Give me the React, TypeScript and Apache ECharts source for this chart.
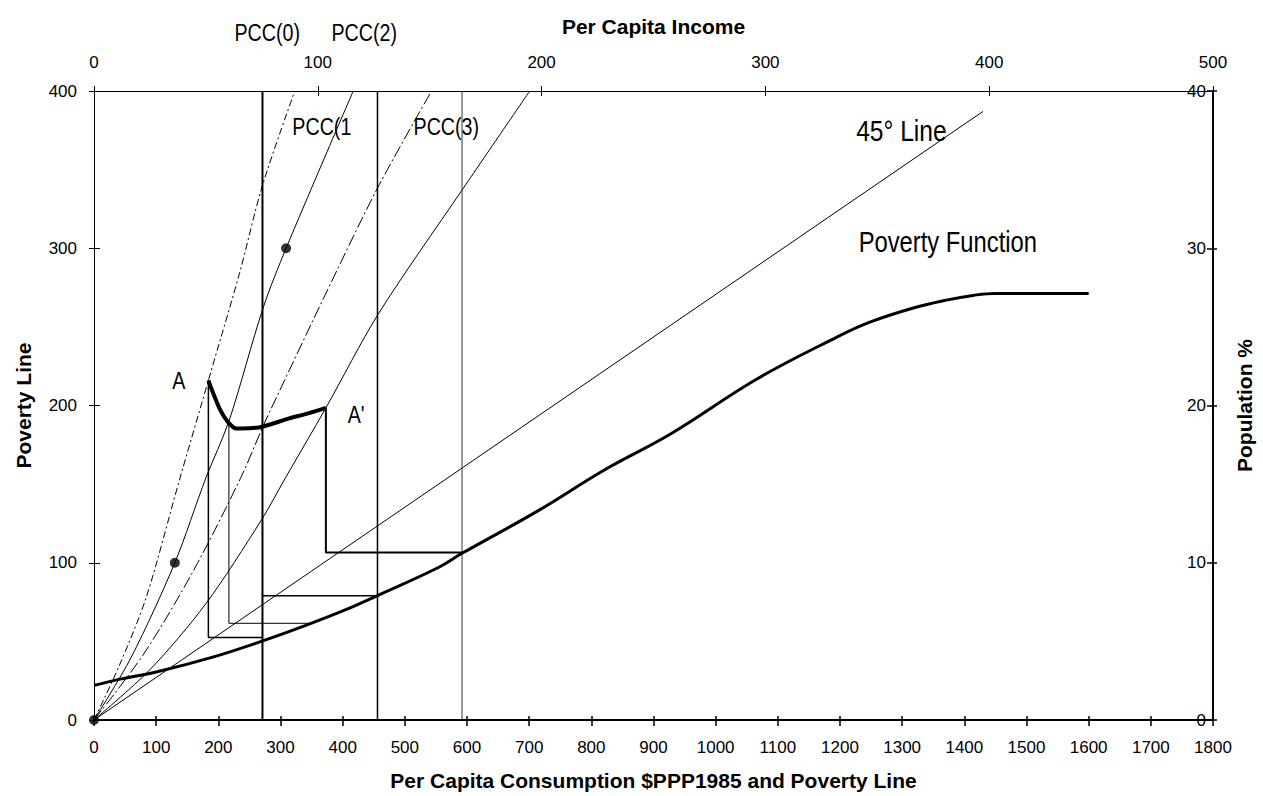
import React, { useEffect, useRef } from "react";
import * as echarts from "echarts";

// ---- data (consumption X, poverty line Y) ----
const povertyFunction = [
  [0, 22], [42, 26], [100, 30.5], [191, 40], [269, 50], [346, 61], [404, 70], [455, 79],
  [554, 97], [592, 106], [714, 133], [821, 159], [928, 182], [1067, 217], [1195, 243.5],
  [1248, 253], [1318, 262], [1371, 267], [1414, 270], [1448, 271.3], [1600, 271.3],
];
const fortyFiveLine = [[0, 0], [1430, 387]];
const pcc0 = [[0, 0], [40, 34], [84, 78], [137, 152], [184, 216], [234, 284], [271, 340], [323, 400]];
const pcc1 = [[0, 0], [60, 40], [130, 100], [180, 154], [217, 190], [272, 262], [309, 300], [417, 400]];
const pcc2 = [[0, 0], [80, 42], [160, 95], [236, 154], [271, 186], [285, 198], [369, 268], [457, 339], [543, 400]];
const pcc3 = [[0, 0], [90, 32], [180, 74], [269, 127], [308, 154], [373, 198.5], [457, 258], [592, 337], [701, 400]];
const curveAA = [
  [184, 216], [189, 210.5], [202, 198], [215, 189.7], [228.5, 185.4], [250, 185.5],
  [271, 186.5], [314, 191.8], [340, 194.5], [367, 197.7], [373, 198.5],
];
const stepA = [[184, 216], [184, 52.5], [271, 52.5]];
const stepB = [[217, 189.5], [217, 61.5], [346, 61.5]];
const stepC = [[271, 79], [455, 79]];
const stepD = [[373, 198.5], [373, 106.5], [592, 106.5]];
const incomeLevels = [271, 456, 592];
const dots = [[0, 0], [130, 100], [309, 300]];

const annotations = [
  { text: "PCC(0)", x: 226, y: 437, size: 24 },
  { text: "PCC(2)", x: 382, y: 437, size: 24 },
  { text: "PCC(1", x: 319, y: 377, size: 24 },
  { text: "PCC(3)", x: 514, y: 377, size: 24 },
  { text: "45° Line", x: 1226, y: 375, size: 30 },
  { text: "Poverty Function", x: 1230, y: 304, size: 29 },
  { text: "A", x: 126, y: 216, size: 24 },
  { text: "A'", x: 408, y: 194, size: 24 },
];

const FONT = "'Liberation Sans', Arial, sans-serif";

export default function App() {
  const ref = useRef<HTMLDivElement>(null);
  useEffect(() => {
    if (!ref.current) return;
    const chart = echarts.init(ref.current, null, { renderer: "svg" });
    const black = "#000";
    const tickLbl = { color: black, fontFamily: FONT, fontSize: 17, formatter: (v: number) => String(v) };
    const nameStyle = { color: black, fontFamily: FONT, fontSize: 21, fontWeight: "bold" as const };
    const lineSeries = (data: number[][], width: number, type: any = "solid", color = black, smooth: any = false, z = 2) => ({
      type: "line",
      data,
      xAxisIndex: 0,
      yAxisIndex: 0,
      showSymbol: false,
      symbol: "none",
      smooth,
      silent: true,
      z,
      lineStyle: { color, width, type },
    });
    const series: any[] = [
      lineSeries(fortyFiveLine, 1),
      lineSeries(pcc0, 1, [7, 3, 2, 3], black, 0.3),
      lineSeries(pcc1, 1, "solid", black, 0.3),
      lineSeries(pcc2, 1, [12, 3, 2, 3], black, 0.3),
      lineSeries(pcc3, 1, "solid", black, 0.3),
      lineSeries([[incomeLevels[0], 0], [incomeLevels[0], 400]], 2),
      lineSeries([[incomeLevels[1], 0], [incomeLevels[1], 400]], 1.5),
      lineSeries([[incomeLevels[2], 0], [incomeLevels[2], 400]], 1, "solid", "#333"),
      lineSeries(stepA, 1.5),
      lineSeries(stepB, 1),
      lineSeries(stepC, 1.5),
      lineSeries(stepD, 2),
      lineSeries(povertyFunction, 3, "solid", black, 0.4, 4),
      lineSeries(curveAA, 4, "solid", black, 0.2, 4),
      {
        type: "scatter",
        data: dots,
        symbol: "circle",
        symbolSize: 10,
        itemStyle: { color: black },
        silent: true,
        z: 5,
      },
    ];
    const noLine = { show: false, onZero: false };
    chart.setOption({
      animation: false,
      backgroundColor: "#fff",
      grid: { left: 94, right: 45, top: 91, bottom: 73 },
      xAxis: [
        {
          type: "value", min: 0, max: 1800, interval: 100, position: "bottom",
          axisLine: { onZero: false, lineStyle: { color: black, width: 2 } },
          axisTick: { length: 6, lineStyle: { color: black, width: 1.5 } },
          axisLabel: { ...tickLbl, margin: 19 },
          splitLine: { show: false },
          name: "Per Capita Consumption $PPP1985 and Poverty Line",
          nameLocation: "middle", nameGap: 50, nameTextStyle: nameStyle,
        },
        {
          type: "value", min: 0, max: 500, interval: 100, position: "top",
          axisLine: { onZero: false, lineStyle: { color: black, width: 1 } },
          axisTick: { length: 5, lineStyle: { color: black, width: 1 } },
          axisLabel: { ...tickLbl, margin: 20 },
          splitLine: { show: false },
          name: "Per Capita Income",
          nameLocation: "middle", nameGap: 54, nameTextStyle: nameStyle,
        },
        {
          type: "value", min: 0, max: 1800, interval: 100, position: "bottom",
          axisLine: noLine, axisTick: { inside: true, length: 4, lineStyle: { color: black, width: 1.5 } },
          axisLabel: { show: false }, splitLine: { show: false },
        },
        {
          type: "value", min: 0, max: 500, interval: 100, position: "top",
          axisLine: noLine, axisTick: { inside: true, length: 5, lineStyle: { color: black, width: 1 } },
          axisLabel: { show: false }, splitLine: { show: false },
        },
      ],
      yAxis: [
        {
          type: "value", min: 0, max: 400, interval: 100, position: "left",
          axisLine: { show: true, onZero: false, lineStyle: { color: black, width: 1 } },
          axisTick: { show: true, length: 5, lineStyle: { color: black, width: 1 } },
          axisLabel: { ...tickLbl, margin: 17 },
          splitLine: { show: false },
          name: "Poverty Line",
          nameLocation: "middle", nameGap: 60, nameTextStyle: nameStyle,
        },
        {
          type: "value", min: 0, max: 40, interval: 10, position: "right",
          axisLine: { show: true, onZero: false, lineStyle: { color: black, width: 2 } },
          axisTick: { show: true, length: 4, lineStyle: { color: black, width: 1.5 } },
          axisLabel: { ...tickLbl, inside: true, margin: 7 },
          splitLine: { show: false },
          name: "Population %",
          nameLocation: "middle", nameGap: 21, nameTextStyle: nameStyle,
        },
        {
          type: "value", min: 0, max: 400, interval: 100, position: "left",
          axisLine: noLine, axisTick: { show: true, inside: true, length: 6, lineStyle: { color: black, width: 1 } },
          axisLabel: { show: false }, splitLine: { show: false },
        },
        {
          type: "value", min: 0, max: 40, interval: 10, position: "right",
          axisLine: noLine, axisTick: { show: true, inside: true, length: 6, lineStyle: { color: black, width: 1.5 } },
          axisLabel: { show: false }, splitLine: { show: false },
        },
      ],
      series,
    });
    const graphic = annotations.map((a) => {
      const p = chart.convertToPixel({ xAxisIndex: 0, yAxisIndex: 0 }, [a.x, a.y]) as number[];
      return {
        type: "text",
        x: p[0],
        y: p[1],
        scaleX: 0.82,
        z: 10,
        style: {
          text: a.text,
          fill: black,
          fontFamily: FONT,
          fontSize: a.size,
          align: "left",
          verticalAlign: "middle",
        },
      };
    });
    chart.setOption({ graphic });
    return () => chart.dispose();
  }, []);
  return (
    <div
      ref={ref}
      style={{ position: "fixed", left: 0, top: 0, width: 1263, height: 796, background: "#fff" }}
    />
  );
}
